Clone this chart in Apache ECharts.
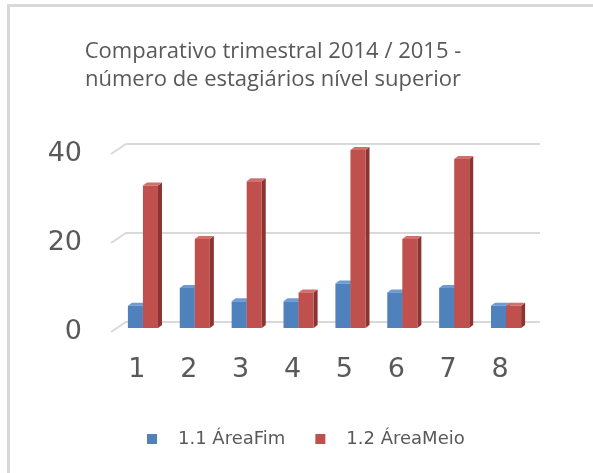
<!DOCTYPE html>
<html lang="pt-BR">
    <head>
        <meta charset="utf-8">
        <title>Comparativo trimestral 2014 / 2015</title>
        <script src="https://cdn.jsdelivr.net/npm/echarts@6/dist/echarts.min.js"></script>
        <style>
            html, body { margin: 0; padding: 0; background: #fff; }
        </style>
    </head>
    <body>
    <div id="main" style="width: 593px;height:473px;"></div>
    <script type="text/javascript">
        // dados
        var categories = ['1', '2', '3', '4', '5', '6', '7', '8'];
        var areaFim = [5, 9, 6, 6, 10, 8, 9, 5];
        var areaMeio = [32, 20, 33, 8, 40, 20, 38, 5];
        var yTicks = [0, 20, 40];
        var seriesNames = ['1.1 ÁreaFim', '1.2 ÁreaMeio'];

        var textColor = '#595959';

        // barra "3D": frente, lado e topo
        function bar3d(colors, dir) {
          return function (params, api) {
            var idx = api.value(0);
            var top = api.coord([idx, api.value(1)]);
            var base = api.coord([idx, 0]);
            var w = api.size([1, 0])[0] * 0.29;
            var x0 = dir < 0 ? top[0] - w : top[0];
            var dx = 4, dy = -3;
            return {
              type: 'group',
              children: [{
                type: 'polygon',
                shape: { points: [[x0 + w, top[1]], [x0 + w + dx, top[1] + dy], [x0 + w + dx, base[1] + dy], [x0 + w, base[1]]] },
                style: { fill: colors[1] }
              }, {
                type: 'polygon',
                shape: { points: [[x0, top[1]], [x0 + dx, top[1] + dy], [x0 + w + dx, top[1] + dy], [x0 + w, top[1]]] },
                style: { fill: colors[2] }
              }, {
                type: 'rect',
                shape: { x: x0, y: top[1], width: w, height: base[1] - top[1] },
                style: { fill: colors[0] }
              }]
            };
          };
        }

        var chart = echarts.init(document.getElementById('main'));
        chart.setOption({
          animation: false,
          backgroundColor: '#fff',
          title: {
            text: 'Comparativo trimestral 2014 / 2015 -\nnúmero de estagiários nível superior',
            left: 268,
            top: 33,
            textAlign: 'center',
            textStyle: {
              color: textColor,
              fontFamily: 'Open Sans',
              fontWeight: 'normal',
              fontSize: 22,
              lineHeight: 28
            }
          },
          legend: {
            data: seriesNames,
            left: 142,
            top: 425,
            icon: 'rect',
            itemWidth: 10,
            itemHeight: 10,
            itemGap: 30,
            textStyle: {
              color: textColor,
              fontFamily: 'DejaVu Sans',
              fontSize: 18,
              padding: [0, 0, 0, 16]
            }
          },
          graphic: [{
            type: 'polyline',
            shape: { points: [[8.5, 473], [8.5, 5.5], [593, 5.5]] },
            style: { stroke: '#d9d9d9', lineWidth: 3, fill: null }
          }],
          grid: [
            // barras
            { left: 117, right: 61, top: 150, bottom: 145 },
            // parede do fundo (linhas de grade)
            { left: 126, right: 53, top: 144, bottom: 151 },
            // plano da frente (rótulos)
            { left: 111, right: 67, top: 154, bottom: 141 }
          ],
          xAxis: [{
            gridIndex: 0,
            type: 'category',
            data: categories,
            show: false
          }, {
            gridIndex: 1,
            type: 'value',
            min: 0,
            max: 1,
            show: false
          }, {
            gridIndex: 2,
            type: 'category',
            data: categories,
            axisLine: { show: false },
            axisTick: { show: false },
            axisLabel: {
              margin: 24,
              color: textColor,
              fontFamily: 'DejaVu Sans',
              fontSize: 27
            }
          }],
          yAxis: [{
            gridIndex: 0,
            type: 'value',
            min: 0,
            max: 40,
            interval: 20,
            show: false
          }, {
            gridIndex: 1,
            type: 'value',
            min: 0,
            max: 40,
            interval: 20,
            show: false
          }, {
            gridIndex: 2,
            type: 'value',
            min: 0,
            max: 40,
            interval: 20,
            axisLine: { show: false },
            axisTick: { show: false },
            splitLine: { show: false },
            axisLabel: {
              margin: 29,
              color: textColor,
              fontFamily: 'DejaVu Sans',
              fontSize: 27
            }
          }],
          series: [{
            name: 'grade',
            type: 'custom',
            xAxisIndex: 1,
            yAxisIndex: 1,
            silent: true,
            data: yTicks.map(function (v) { return [0, v]; }),
            renderItem: function (params, api) {
              var l = api.coord([0, api.value(1)]);
              var r = api.coord([1, api.value(1)]);
              return {
                type: 'polyline',
                shape: { points: [[l[0] - 15, l[1] + 10], l, r] },
                style: { stroke: '#d9d9d9', lineWidth: 2, fill: null }
              };
            }
          }, {
            name: seriesNames[0],
            type: 'custom',
            xAxisIndex: 0,
            yAxisIndex: 0,
            itemStyle: { color: '#4f81bd' },
            data: areaFim.map(function (v, i) { return [i, v]; }),
            renderItem: bar3d(['#4f81bd', '#365f91', '#6f9bd4'], -1)
          }, {
            name: seriesNames[1],
            type: 'custom',
            xAxisIndex: 0,
            yAxisIndex: 0,
            itemStyle: { color: '#c0504d' },
            data: areaMeio.map(function (v, i) { return [i, v]; }),
            renderItem: bar3d(['#c0504d', '#8c3432', '#d16f6c'], 1)
          }]
        });
    </script>
    </body>
</html>
